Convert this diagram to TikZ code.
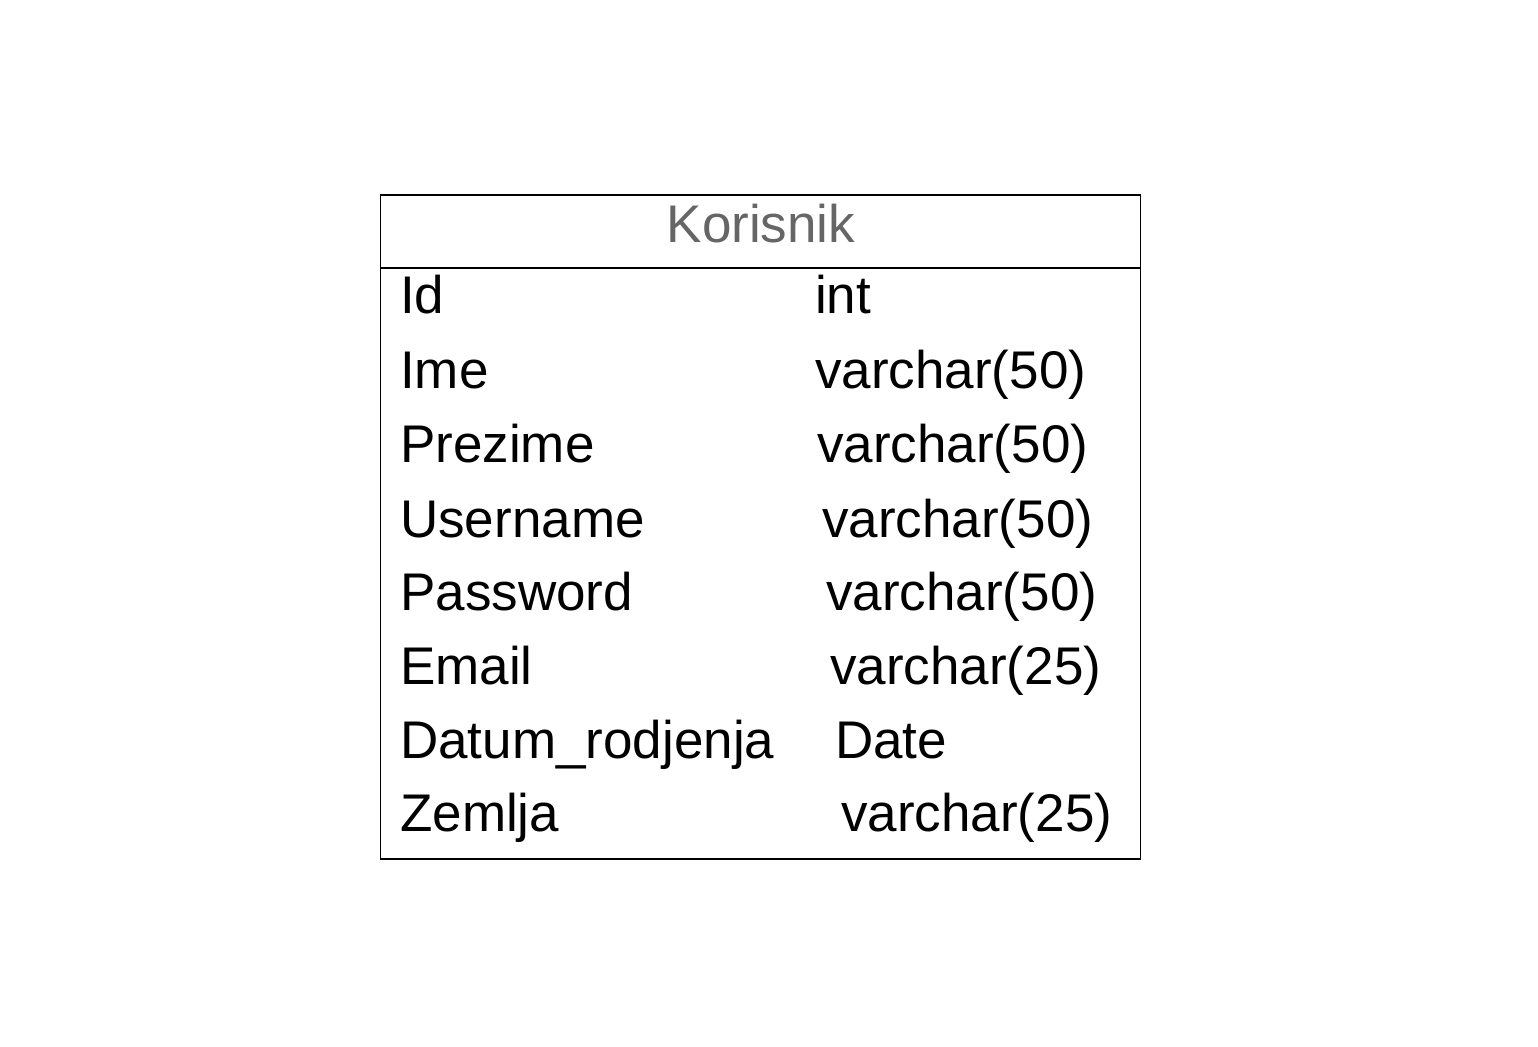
\documentclass[tikz,border=0pt]{standalone}
\usepackage{fontspec}
\setmainfont{Liberation Sans}
\definecolor{hdrgray}{HTML}{666666}
\begin{document}
\begin{tikzpicture}[x=1pt,y=-1pt,
  cell/.style={anchor=base west,inner sep=0pt,font=\fontsize{53}{53}\selectfont},
  frame/.style={draw=black,line width=1.6pt}]
\useasboundingbox (0,0) rectangle (1538,1046);
\node[frame,minimum width=760pt,minimum height=664pt,anchor=north west,inner sep=0pt] (tbl) at (379.5,194) {};
\coordinate (hl) at (379.5,268);
\coordinate (hr) at (1139.5,268);
\draw[line width=1.6pt] (hl) -- (hr);
\node[anchor=base,inner sep=0pt,text=hdrgray,font=\fontsize{53}{53}\selectfont] (hdr) at (761,242) {Korisnik};
\node[cell] (n1) at (400,313) {Id};
\node[cell] (t1) at (815,313) {int};
\node[cell] (n2) at (400,388) {Ime};
\node[cell] (t2) at (815,388) {varchar(50)};
\node[cell] (n3) at (400,462) {Prezime};
\node[cell] (t3) at (817,462) {varchar(50)};
\node[cell] (n4) at (400,537) {Username};
\node[cell] (t4) at (822,537) {varchar(50)};
\node[cell] (n5) at (400,610) {Password};
\node[cell] (t5) at (826,610) {varchar(50)};
\node[cell] (n6) at (400,684) {Email};
\node[cell] (t6) at (830,684) {varchar(25)};
\node[cell] (n7) at (400,758) {Datum\_rodjenja};
\node[cell] (t7) at (835,758) {Date};
\node[cell] (n8) at (400,831) {Zemlja};
\node[cell] (t8) at (841,831) {varchar(25)};
\end{tikzpicture}
\end{document}
